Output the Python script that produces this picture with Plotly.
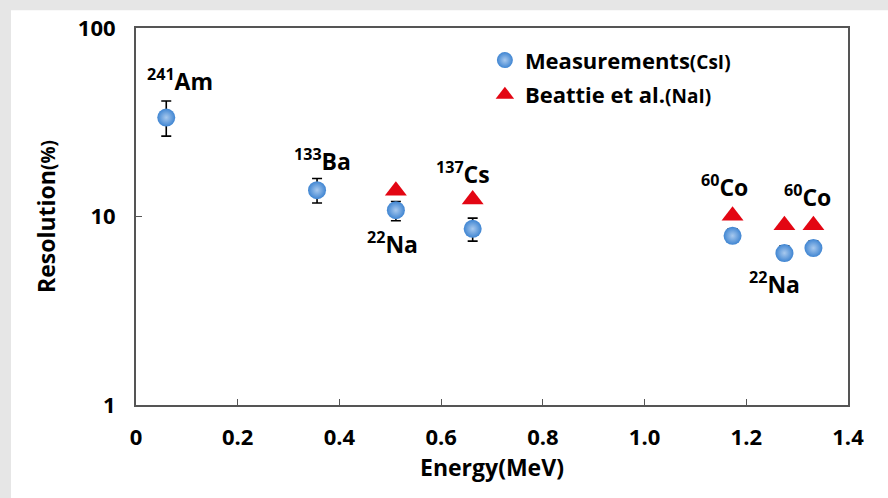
import math
import plotly.graph_objects as go

# Gamma-ray energies (MeV) of the calibration lines
energy = [0.0595, 0.356, 0.511, 0.662, 1.173, 1.275, 1.332]
isotopes = ["<sup>241</sup>Am", "<sup>133</sup>Ba", "<sup>22</sup>Na", "<sup>137</sup>Cs",
            "<sup>60</sup>Co", "<sup>22</sup>Na", "<sup>60</sup>Co"]

# Measured CsI resolution (%) with asymmetric error bars
csi_res = [33.5, 13.8, 10.8, 8.6, 7.9, 6.4, 6.8]
csi_err_plus = [7.5, 2.1, 1.2, 1.2, 0.7, 0.6, 0.6]
csi_err_minus = [6.8, 2.0, 1.3, 1.2, 0.6, 0.5, 0.5]

# Beattie et al. NaI resolution (%)
nai_energy = [0.511, 0.662, 1.173, 1.275, 1.332]
nai_res = [13.7, 12.3, 10.1, 9.0, 9.0]

# label offsets in pixels (relative to each CsI point)
label_dx = [14, 5, -3, -10, -8, -10, -6]
label_dy = [-38, -30, 33, -56, -50, 30, -52]

x_ticks = [0, 0.2, 0.4, 0.6, 0.8, 1.0, 1.2, 1.4]
x_ticktext = ["0", "0.2", "0.4", "0.6", "0.8", "1.0", "1.2", "1.4"]
y_ticks = [1, 10, 100]

FONT = "Open Sans"

fig = go.Figure()

fig.add_trace(go.Scatter(
    x=energy, y=csi_res, mode="markers", legendgroup="csi",
    name="<b>Measurements</b><b><span style='font-size:19px'>(CsI)</span></b>",
    marker=dict(symbol="circle", size=18, color="#3f85d2",
                gradient=dict(type="radial", color="#a8c9ee"),
                line=dict(width=0)),
    error_y=dict(type="data", symmetric=False, array=csi_err_plus,
                 arrayminus=csi_err_minus, color="black", thickness=1.6, width=5),
))

fig.add_trace(go.Scatter(
    x=nai_energy, y=nai_res, mode="markers", legendgroup="nai",
    name="<b>Beattie et al.</b><b><span style='font-size:19px'>(NaI)</span></b>",
    marker=dict(symbol="triangle-up", size=19, color="#e30613", line=dict(width=0)),
))

for e, r, t, dx, dy in zip(energy, csi_res, isotopes, label_dx, label_dy):
    fig.add_annotation(x=e, y=math.log10(r), text="<b>" + t + "</b>",
                       showarrow=False, xshift=dx, yshift=-dy,
                       font=dict(family=FONT, size=23, color="black"))

# page background: grey strip on left/top, white panel
fig.add_shape(type="rect", xref="paper", yref="paper", layer="below",
              x0=-0.1756, x1=1.06, y0=-0.25, y1=1.047,
              fillcolor="white", line=dict(width=0))

fig.update_layout(
    width=888, height=498,
    margin=dict(l=136, r=40, t=22, b=93),
    paper_bgcolor="#e6e6e6", plot_bgcolor="white",
    font=dict(family=FONT, color="black"),
    legend=dict(x=0.49, y=0.97, xanchor="left", yanchor="top",
                bgcolor="rgba(0,0,0,0)", font=dict(family=FONT, size=22, color="black"),
                itemsizing="trace", tracegroupgap=3),
    showlegend=True,
)

fig.update_xaxes(
    range=[0, 1.4], tickvals=x_ticks, ticktext=x_ticktext,
    showline=True, linecolor="#555", linewidth=2, mirror=True,
    ticks="inside", ticklen=6, tickcolor="#555", showgrid=False, zeroline=False,
    tickfont=dict(family=FONT, size=22, color="black", weight="bold"),
    ticklabelstandoff=12,
    title=dict(text="<b>Energy(MeV)</b>", font=dict(family=FONT, size=23, color="black"),
               standoff=6),
)

fig.update_yaxes(
    type="log", range=[0, 2], tickvals=y_ticks, ticktext=["1", "10", "100"],
    showline=True, linecolor="#555", linewidth=2, mirror=True,
    ticks="inside", ticklen=6, tickcolor="#555", showgrid=False, zeroline=False,
    tickfont=dict(family=FONT, size=22, color="black", weight="bold"),
    ticklabelstandoff=14,
    title=dict(text="<b>Resolution</b><b><span style='font-size:19px'>(%)</span></b>",
               font=dict(family=FONT, size=23, color="black"), standoff=16),
)

fig.write_html("out.html")
